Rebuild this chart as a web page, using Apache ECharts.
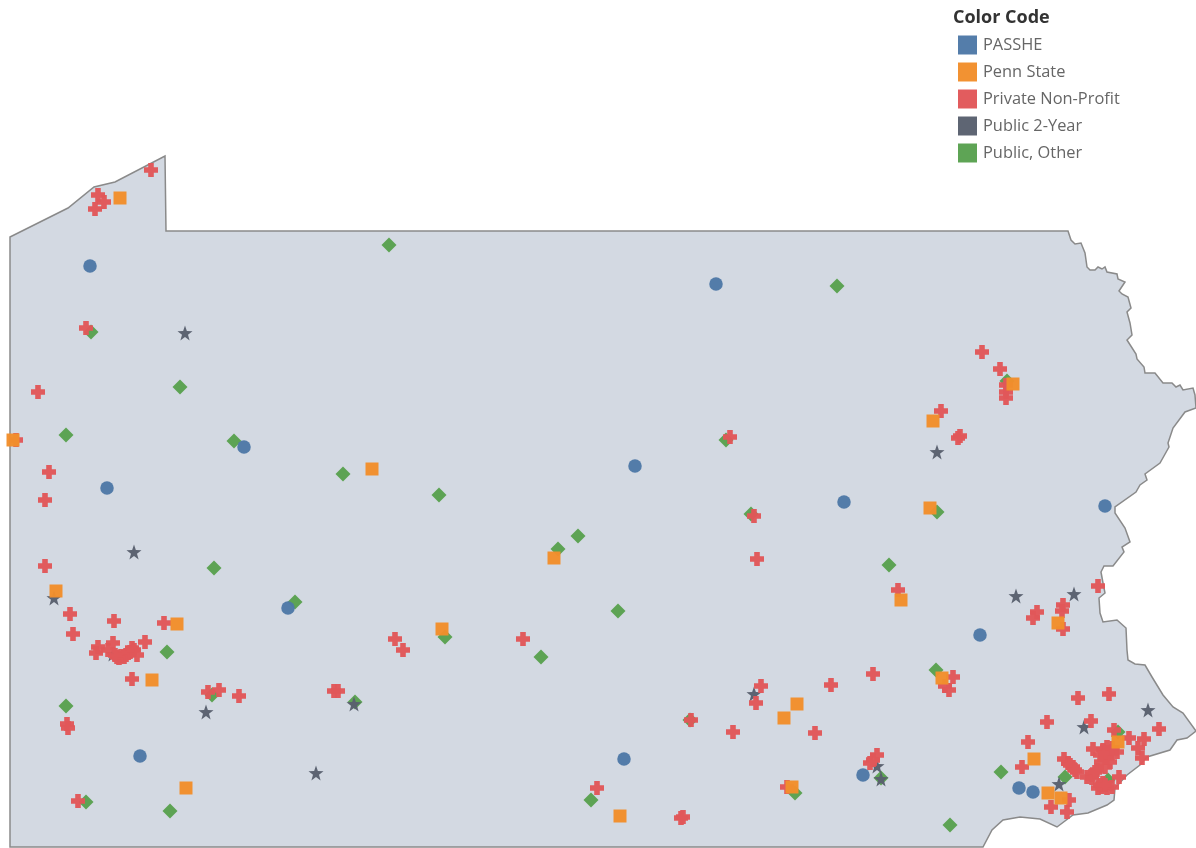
<!DOCTYPE html>
<html>
<head>
<meta charset="utf-8">
<title>Color Code</title>
<script src="https://cdn.jsdelivr.net/npm/echarts@6/dist/echarts.min.js"></script>
<style>
  html, body { margin: 0; padding: 0; background: #fff; }
  #map { width: 1196px; height: 848px; }
</style>
</head>
<body>
<div id="map"></div>
<script>
const categories = ['PASSHE', 'Penn State', 'Private Non-Profit', 'Public 2-Year', 'Public, Other'];

const stateOutline = [
  [10,237],[68,208],[94,187],[115,182],[165,156],[166,231],[1000,231],[1068,231],[1071,240],[1075,244],[1081,243],
  [1085,253],[1087,267],[1090,270],[1095,270],[1098,267],[1102,269],[1105,267],[1107,272],[1117,274],[1118,279],
  [1125,282],[1119,291],[1122,294],[1128,297],[1131,308],[1127,312],[1130,323],[1132,335],[1127,340],[1136,354],
  [1137,359],[1144,367],[1145,373],[1155,373],[1163,383],[1172,383],[1176,387],[1180,385],[1183,390],[1193,388],
  [1195,395],[1196,408],[1185,412],[1173,428],[1168,443],[1169,447],[1160,463],[1145,474],[1147,480],[1140,485],
  [1136,492],[1115,507],[1115,513],[1125,528],[1130,542],[1122,547],[1124,552],[1113,566],[1104,566],[1101,572],
  [1103,583],[1105,593],[1099,598],[1100,613],[1103,622],[1117,620],[1126,628],[1127,650],[1128,660],[1135,664],
  [1145,665],[1152,677],[1163,695],[1173,707],[1183,713],[1196,731],[1187,738],[1177,740],[1170,750],[1147,757],
  [1140,765],[1127,775],[1115,788],[1114,800],[1107,805],[1088,813],[1073,815],[1057,827],[1040,819],[1020,817],
  [1003,820],[992,830],[983,847],[10,847]
];

const passhe = [
  [90,266],[716,284],[244,447],[107,488],[635,466],[844,502],[1105,506],[288,608],[980,635],[140,756],[624,759],
  [863,775],[1019,788],[1033,792]
];

const pennState = [
  [120,198],[1013,384],[933,421],[13,440],[372,469],[930,508],[554,558],[56,591],[901,600],[1058,623],[177,624],
  [442,629],[152,680],[942,678],[797,704],[784,718],[1118,742],[1034,759],[186,788],[792,787],[1048,793],[1061,798],
  [620,816]
];

const privateNonProfit = [
  [151,170],[98,195],[104,202],[95,209],[86,328],[38,392],[16,440],[49,472],[45,500],[982,352],[1000,369],[1006,385],
  [1006,392],[1006,398],[941,411],[960,436],[958,438],[730,437],[754,516],[757,559],[45,566],[898,590],[1098,586],
  [70,614],[114,621],[73,634],[164,623],[1063,605],[1062,611],[1037,612],[1033,618],[1063,629],[145,642],[98,647],
  [96,653],[113,643],[108,650],[117,657],[119,658],[121,656],[124,657],[126,655],[128,653],[130,652],[132,648],
  [134,650],[137,655],[115,655],[132,679],[208,692],
  [219,690],[239,696],[67,724],[68,728],[334,691],[338,691],[395,639],[403,650],[523,639],[691,720],[761,686],
  [756,703],[733,732],[815,733],[831,685],[873,674],[953,677],[945,686],[949,690],[597,788],[787,787],[78,801],
  [681,818],[683,817],[877,755],[873,760],[870,763],[1078,698],[1109,694],[1159,729],[1091,721],[1047,722],
  [1028,742],[1022,767],[1114,730],[1129,738],[1144,739],[1138,748],[1142,758],[1093,749],[1107,747],[1103,750],
  [1112,753],[1117,752],[1107,758],[1100,755],[1110,762],[1105,767],[1097,770],[1092,775],[1087,777],[1064,759],
  [1068,763],[1073,767],[1077,772],[1119,777],[1103,783],[1098,788],[1107,788],[1112,787],[1102,787],[1051,807],
  [1067,812],[1069,800],[1092,778],[1105,753],[1112,748],[1101,762],[1070,765],[1075,770],[1095,772],[1100,785],[1105,785]
];

const public2Year = [
  [185,333],[937,452],[134,552],[54,598],[1016,596],[1074,594],[113,654],[754,694],[206,712],[354,704],[1148,710],
  [1084,727],[877,766],[881,779],[316,773],[1059,784]
];

const publicOther = [
  [389,245],[837,286],[91,332],[180,387],[66,435],[234,441],[726,440],[343,474],[439,495],[751,514],[937,512],
  [578,536],[558,549],[214,568],[889,565],[295,602],[618,611],[445,637],[167,652],[541,657],[936,670],[66,706],
  [212,695],[355,702],[1007,381],[690,720],[1118,732],[1001,772],[1065,777],[1108,780],[881,778],[795,793],
  [591,800],[86,802],[170,811],[950,825]
];

const colors = ['#4e79a7', '#f28e2b', '#e15759', '#59606e', '#59a14f'];

const crossPath = 'path://M3,0H7V3H10V7H7V10H3V7H0V3H3Z';
const starPath = 'path://M5,0L6.18,3.38L9.76,3.45L6.9,5.62L7.94,9.05L5,7L2.06,9.05L3.1,5.62L0.24,3.45L3.82,3.38Z';

const myChart = echarts.init(document.getElementById('map'), null, { renderer: 'canvas' });

function pointSeries(name, data, symbol, size, color) {
  return {
    name: name,
    type: 'scatter',
    data: data,
    symbol: symbol,
    symbolSize: size,
    itemStyle: { color: color, opacity: 0.97 },
    clip: false
  };
}

const option = {
  animation: false,
  backgroundColor: '#fff',
  color: colors,
  textStyle: { fontFamily: 'Open Sans' },
  title: {
    text: 'Color Code',
    left: 953,
    top: 9,
    padding: 0,
    textStyle: { fontFamily: 'Open Sans', fontSize: 18, fontWeight: 'bold', color: '#333' }
  },
  legend: {
    data: categories,
    orient: 'vertical',
    left: 958,
    top: 34,
    padding: 0,
    icon: 'rect',
    itemWidth: 19,
    itemHeight: 19,
    itemGap: 5,
    selectedMode: false,
    textStyle: { fontFamily: 'Open Sans', fontSize: 16.4, color: '#666', lineHeight: 19, padding: [3, 0, 0, 1] }
  },
  grid: { left: 0, right: 0, top: 0, bottom: 0 },
  xAxis: { type: 'value', min: 0, max: 1196, show: false },
  yAxis: { type: 'value', min: 0, max: 848, inverse: true, show: false },
  series: [
    {
      type: 'custom',
      silent: true,
      clip: false,
      data: [0],
      renderItem: function (params, api) {
        return {
          type: 'polygon',
          shape: { points: stateOutline.map((p) => api.coord(p)) },
          style: { fill: '#d3d9e2', stroke: '#8a8a8a', lineWidth: 1.5 }
        };
      }
    },
    pointSeries(categories[4], publicOther, 'diamond', 15, colors[4]),
    pointSeries(categories[3], public2Year, starPath, 15, colors[3]),
    pointSeries(categories[2], privateNonProfit, crossPath, 14, colors[2]),
    pointSeries(categories[0], passhe, 'circle', 13.5, colors[0]),
    pointSeries(categories[1], pennState, 'rect', 13, colors[1])
  ]
};

myChart.setOption(option);
</script>
</body>
</html>
